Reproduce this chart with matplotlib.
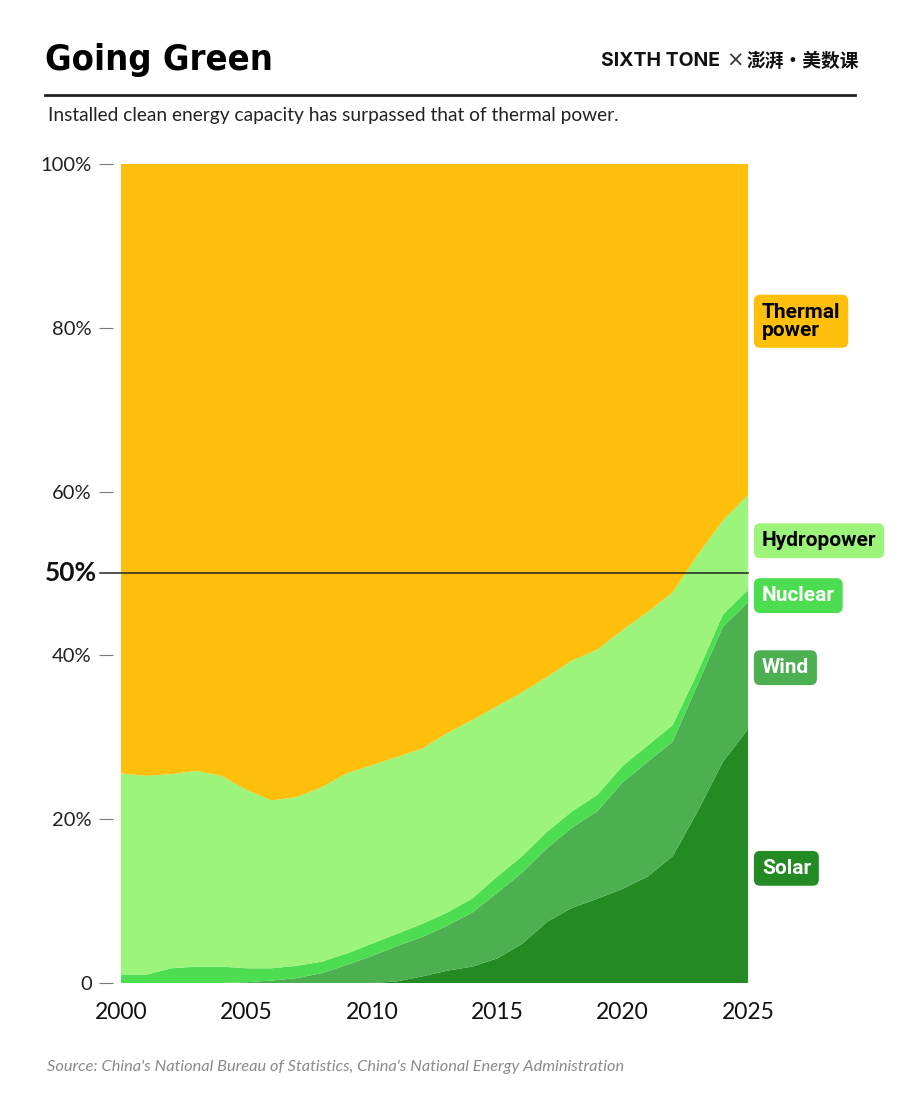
import matplotlib.pyplot as plt

# Share of installed capacity (%)
years = list(range(2000, 2026))
solar = [0, 0, 0, 0, 0, 0, 0, 0, 0, 0, 0, 0.2, 0.8, 1.5, 2.0, 3.0, 4.8, 7.5, 9.2, 10.3, 11.5, 13.0, 15.5, 21.0, 27.0, 31.0]
wind = [0, 0, 0, 0, 0, 0.1, 0.3, 0.6, 1.2, 2.2, 3.3, 4.3, 4.8, 5.5, 6.6, 8.0, 8.7, 9.0, 9.8, 10.7, 13.0, 14.0, 14.0, 15.5, 16.5, 15.5]
nuclear = [1.0, 1.0, 1.8, 2.0, 2.0, 1.7, 1.5, 1.5, 1.4, 1.4, 1.5, 1.5, 1.6, 1.6, 1.7, 2.0, 2.0, 2.0, 2.0, 2.0, 2.0, 2.0, 2.0, 1.5, 1.5, 1.5]
hydro = [24.6, 24.3, 23.7, 23.9, 23.3, 21.8, 20.5, 20.6, 21.3, 22.0, 21.8, 21.6, 21.4, 21.9, 21.8, 20.8, 20.0, 18.9, 18.4, 17.7, 16.6, 16.3, 16.2, 14.3, 11.5, 11.6]
thermal = [74.4, 74.7, 74.5, 74.1, 74.7, 76.4, 77.7, 77.3, 76.1, 74.4, 73.4, 72.4, 71.4, 69.5, 67.9, 66.2, 64.5, 62.6, 60.6, 59.3, 56.9, 54.7, 52.3, 47.7, 43.5, 40.4]

labels = ['Solar', 'Wind', 'Nuclear', 'Hydropower', 'Thermal\npower']
colors = ['#248B24', '#4CAF50', '#4CDE50', '#9CF47A', '#FFBF0A']
text_colors = ['white', 'white', 'white', 'black', 'black']
label_y = [14, 38.5, 47.3, 54, 80.8]

fig = plt.figure(figsize=(9, 11.11), dpi=100)
ax = fig.add_axes([0.1344, 0.1152, 0.6967, 0.7372])

ax.stackplot(years, solar, wind, nuclear, hydro, thermal, colors=colors, linewidth=0)
ax.set_xlim(2000, 2025)
ax.set_ylim(0, 100)

for s in ['top', 'right', 'bottom', 'left']:
    ax.spines[s].set_visible(False)
ax.spines['left'].set_position(('outward', 6))

ax.set_yticks([0, 20, 40, 60, 80, 100])
ax.set_yticklabels(['0', '20%', '40%', '60%', '80%', '100%'], fontsize=14.5, family='Lato', color='#222222')
ax.tick_params(axis='y', length=10, width=0.8, color='#777777', pad=5)
ax.set_xticks([2000, 2005, 2010, 2015, 2020, 2025])
ax.set_xticklabels([str(y) for y in [2000, 2005, 2010, 2015, 2020, 2025]], fontsize=16.5, family='Lato', color='#111111')
ax.tick_params(axis='x', length=0, pad=14)

# 50% reference line
ax.plot([1999.15, 2025], [50, 50], color='#222222', linewidth=1.1, clip_on=False, zorder=5)
ax.text(1999.05, 50, '50%', fontsize=19, family='Lato', fontweight='bold', ha='right', va='center', color='#111111')

# Labels on the right
for lab, c, tc, y in zip(labels, colors, text_colors, label_y):
    ax.text(2025.55, y, lab, fontsize=15, family='Roboto', fontweight='bold', color=tc,
            ha='left', va='center', linespacing=0.95, clip_on=False,
            bbox=dict(boxstyle='round,pad=0.38,rounding_size=0.3', facecolor=c, edgecolor='none'))

# Header
fig.text(0.05, 0.946, 'Going Green', fontsize=26, family='DejaVu Sans', fontstretch='condensed',
         fontweight='bold', ha='left', va='center')
fig.text(0.8, 0.945, 'SIXTH TONE', fontsize=14, family='Inter', fontweight='bold', ha='right', va='center', color='#111111')
fig.text(0.816, 0.945, '×', fontsize=15, family='DejaVu Sans', ha='center', va='center', color='#333333')
fig.text(0.83, 0.945, '澎湃·美数课', fontsize=13.5, family=['Noto Sans CJK SC', 'DejaVu Sans'], fontweight='bold', ha='left', va='center', color='#111111')
fig.add_artist(plt.Line2D([0.05, 0.95], [0.9145, 0.9145], color='#222222', linewidth=2))
fig.text(0.053, 0.896, 'Installed clean energy capacity has surpassed that of thermal power.', fontsize=13.8, family='Lato', color='#222222', ha='left', va='center')

fig.text(0.052, 0.0395, "Source: China's National Bureau of Statistics, China's National Energy Administration",
         fontsize=11.8, family='Lato', style='italic', color='#8a8a8a', ha='left', va='center')

plt.savefig('out.png', dpi=100)
